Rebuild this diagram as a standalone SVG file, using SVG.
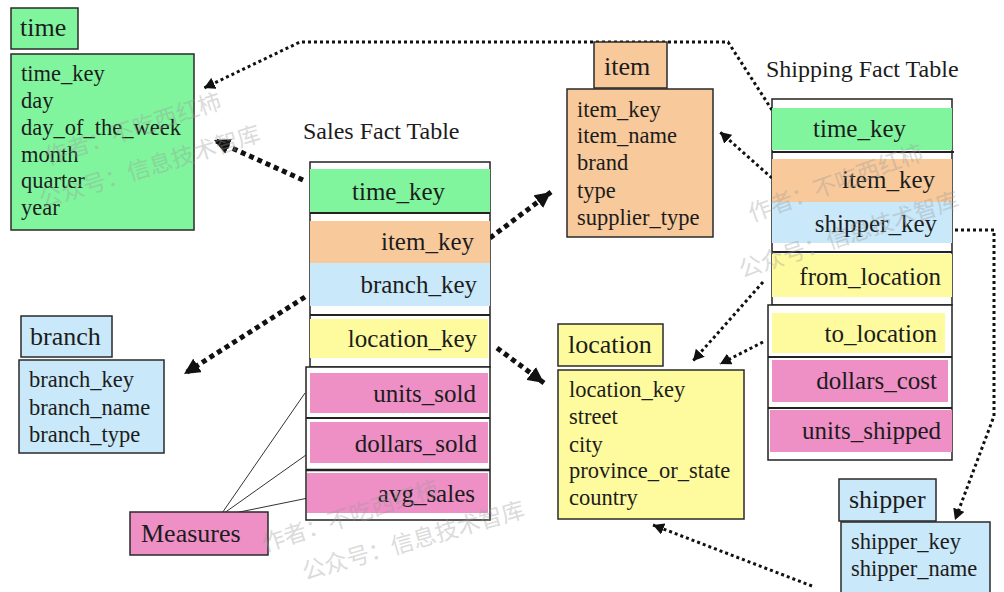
<svg xmlns="http://www.w3.org/2000/svg" width="1004" height="592" viewBox="0 0 1004 592">
<defs>
<style>
text{font-family:"Liberation Serif","Times New Roman",serif;fill:#1c1c1c}
.t{font-size:26px}
.b{font-size:22.5px}
.r{font-size:25px}
.lbl{font-size:24px}
.box{stroke:#2a2a2a;stroke-width:1.5}
.g{fill:#80f59e}.o{fill:#f8c99b}.bl{fill:#c9e8f9}.y{fill:#fdfb9d}.p{fill:#ee8fc6}
.fr{fill:#fff;stroke:#222;stroke-width:1.5}
.sep{stroke:#222;stroke-width:2}
.thick{fill:none;stroke:#111;stroke-width:5;stroke-dasharray:5 4}
.thin{fill:none;stroke:#111;stroke-width:3;stroke-dasharray:3 3}
.ml{stroke:#333;stroke-width:1;fill:none}
.wm{font-family:"Noto Sans CJK SC","Noto Sans",sans-serif;font-size:23px;fill:#9a9a9a;opacity:0.35}
.e{text-anchor:end}
</style>
<marker id="ab" markerUnits="userSpaceOnUse" markerWidth="18" markerHeight="16" refX="16" refY="8" orient="auto"><path d="M0,0 L16,8 L0,16 Z" fill="#111"/></marker>
<marker id="as" markerUnits="userSpaceOnUse" markerWidth="12" markerHeight="12" refX="11" refY="6" orient="auto"><path d="M0,0 L11,6 L0,12 Z" fill="#111"/></marker>
</defs>
<rect width="1004" height="592" fill="#fff"/>

<g id="connectors">
<path class="thick" d="M303,180 L214,140" marker-end="url(#ab)"/>
<path class="thin" d="M772,110 L728,42 L300,42 L204,88" marker-end="url(#as)"/>
<path class="thick" d="M490,238 L551,192" marker-end="url(#ab)"/>
<path class="thin" d="M772,178 L720,132" marker-end="url(#as)"/>
<path class="thick" d="M305,297 L184,374" marker-end="url(#ab)"/>
<path class="thick" d="M497,348 L544,383" marker-end="url(#ab)"/>
<path class="thin" d="M763,282 L693,361" marker-end="url(#as)"/>
<path class="thin" d="M763,342 L720,364" marker-end="url(#as)"/>
<path class="thin" d="M955,230 L994,230 L994,416 L955,520" marker-end="url(#as)"/>
<path class="thin" d="M812,586 L653,525" marker-end="url(#as)"/>
<path class="ml" d="M220,516 L305,393 M220,516 L306,455 M220,516 L318,496"/>
</g>

<g id="time">
<rect class="box g" x="11" y="8" width="67" height="41"/>
<text class="t" x="20" y="36">time</text>
<rect class="box g" x="11" y="54" width="183" height="176"/>
<text class="b" x="21" y="81">time_key</text>
<text class="b" x="21" y="108">day</text>
<text class="b" x="21" y="135">day_of_the_week</text>
<text class="b" x="21" y="162">month</text>
<text class="b" x="21" y="188">quarter</text>
<text class="b" x="21" y="215">year</text>
</g>

<g id="item">
<rect class="box o" x="594" y="42" width="73" height="46"/>
<text class="t" x="604" y="75">item</text>
<rect class="box o" x="567" y="89" width="146" height="148"/>
<text class="b" x="577" y="117">item_key</text>
<text class="b" x="577" y="143">item_name</text>
<text class="b" x="577" y="170">brand</text>
<text class="b" x="577" y="198">type</text>
<text class="b" x="577" y="225">supplier_type</text>
</g>

<g id="branch">
<rect class="box bl" x="21" y="316" width="91" height="41"/>
<text class="t" x="30" y="345">branch</text>
<rect class="box bl" x="19" y="360" width="145" height="93"/>
<text class="b" x="29" y="387">branch_key</text>
<text class="b" x="29" y="415">branch_name</text>
<text class="b" x="29" y="442">branch_type</text>
</g>

<g id="location">
<rect class="box y" x="558" y="324" width="105" height="42"/>
<text class="t" x="568" y="353">location</text>
<rect class="box y" x="558" y="370" width="186" height="149"/>
<text class="b" x="569" y="397">location_key</text>
<text class="b" x="569" y="424">street</text>
<text class="b" x="569" y="452">city</text>
<text class="b" x="569" y="478">province_or_state</text>
<text class="b" x="569" y="505">country</text>
</g>

<g id="shipper">
<rect class="box bl" x="839" y="479" width="97" height="42"/>
<text class="t" x="849" y="508">shipper</text>
<rect class="box bl" x="841" y="522" width="149" height="80"/>
<text class="b" x="851" y="549">shipper_key</text>
<text class="b" x="851" y="576">shipper_name</text>
</g>

<g id="measures">
<rect class="box p" x="130" y="512" width="138" height="43"/>
<text class="t" x="141" y="542">Measures</text>
</g>

<g id="sales">
<text class="lbl" x="303" y="139">Sales Fact Table</text>
<rect class="fr" x="310" y="162" width="180" height="205"/>
<rect class="fr" x="306" y="367" width="184" height="153"/>
<rect class="g" x="310" y="169" width="180" height="43"/>
<line class="sep" x1="310" y1="213" x2="490" y2="213"/>
<rect class="o" x="310" y="221" width="180" height="42"/>
<rect class="bl" x="310" y="263" width="180" height="43"/>
<line class="sep" x1="310" y1="315" x2="490" y2="315"/>
<rect class="y" x="310" y="319" width="178" height="39"/>
<rect class="p" x="310" y="373" width="178" height="40"/>
<line class="sep" x1="306" y1="418" x2="490" y2="418"/>
<rect class="p" x="310" y="422" width="178" height="41"/>
<line class="sep" x1="306" y1="470" x2="490" y2="470" style="stroke-width:2.5"/>
<rect class="p" x="307" y="473" width="181" height="40"/>
<text class="r" x="352" y="200">time_key</text>
<text class="r e" x="474" y="250">item_key</text>
<text class="r e" x="477" y="293">branch_key</text>
<text class="r e" x="477" y="347">location_key</text>
<text class="r e" x="476" y="402">units_sold</text>
<text class="r e" x="477" y="452">dollars_sold</text>
<text class="r e" x="475" y="502">avg_sales</text>
</g>

<g id="shipping">
<text class="lbl" x="766" y="77">Shipping Fact Table</text>
<rect class="fr" x="772" y="99" width="180" height="206"/>
<rect class="fr" x="768" y="305" width="184" height="155"/>
<rect class="g" x="772" y="108" width="180" height="42"/>
<line class="sep" x1="772" y1="152" x2="954" y2="152"/>
<rect class="o" x="772" y="159" width="180" height="43"/>
<rect class="bl" x="772" y="202" width="180" height="41"/>
<line class="sep" x1="772" y1="252" x2="952" y2="252"/>
<rect class="y" x="772" y="254" width="180" height="43"/>
<rect class="y" x="772" y="313" width="173" height="40"/>
<line class="sep" x1="768" y1="357" x2="952" y2="357"/>
<rect class="p" x="772" y="360" width="176" height="42"/>
<line class="sep" x1="768" y1="408" x2="952" y2="408"/>
<rect class="p" x="770" y="410" width="182" height="42"/>
<text class="r" x="813" y="137">time_key</text>
<text class="r e" x="935" y="188">item_key</text>
<text class="r e" x="937" y="232">shipper_key</text>
<text class="r e" x="941" y="285">from_location</text>
<text class="r e" x="937" y="342">to_location</text>
<text class="r e" x="937" y="389">dollars_cost</text>
<text class="r e" x="941" y="439">units_shipped</text>
</g>

<g id="watermark">
<text class="wm" transform="translate(48,165) rotate(-18)">作者：不吃西红柿</text>
<text class="wm" transform="translate(42,208) rotate(-17)">公众号：信息技术智库</text>
<text class="wm" transform="translate(752,222) rotate(-20)">作者：不吃西红柿</text>
<text class="wm" transform="translate(742,278) rotate(-18)">公众号：信息技术智库</text>
<text class="wm" transform="translate(265,552) rotate(-18)">作者：不吃西红柿</text>
<text class="wm" transform="translate(305,580) rotate(-16)">公众号：信息技术智库</text>
</g>
</svg>
